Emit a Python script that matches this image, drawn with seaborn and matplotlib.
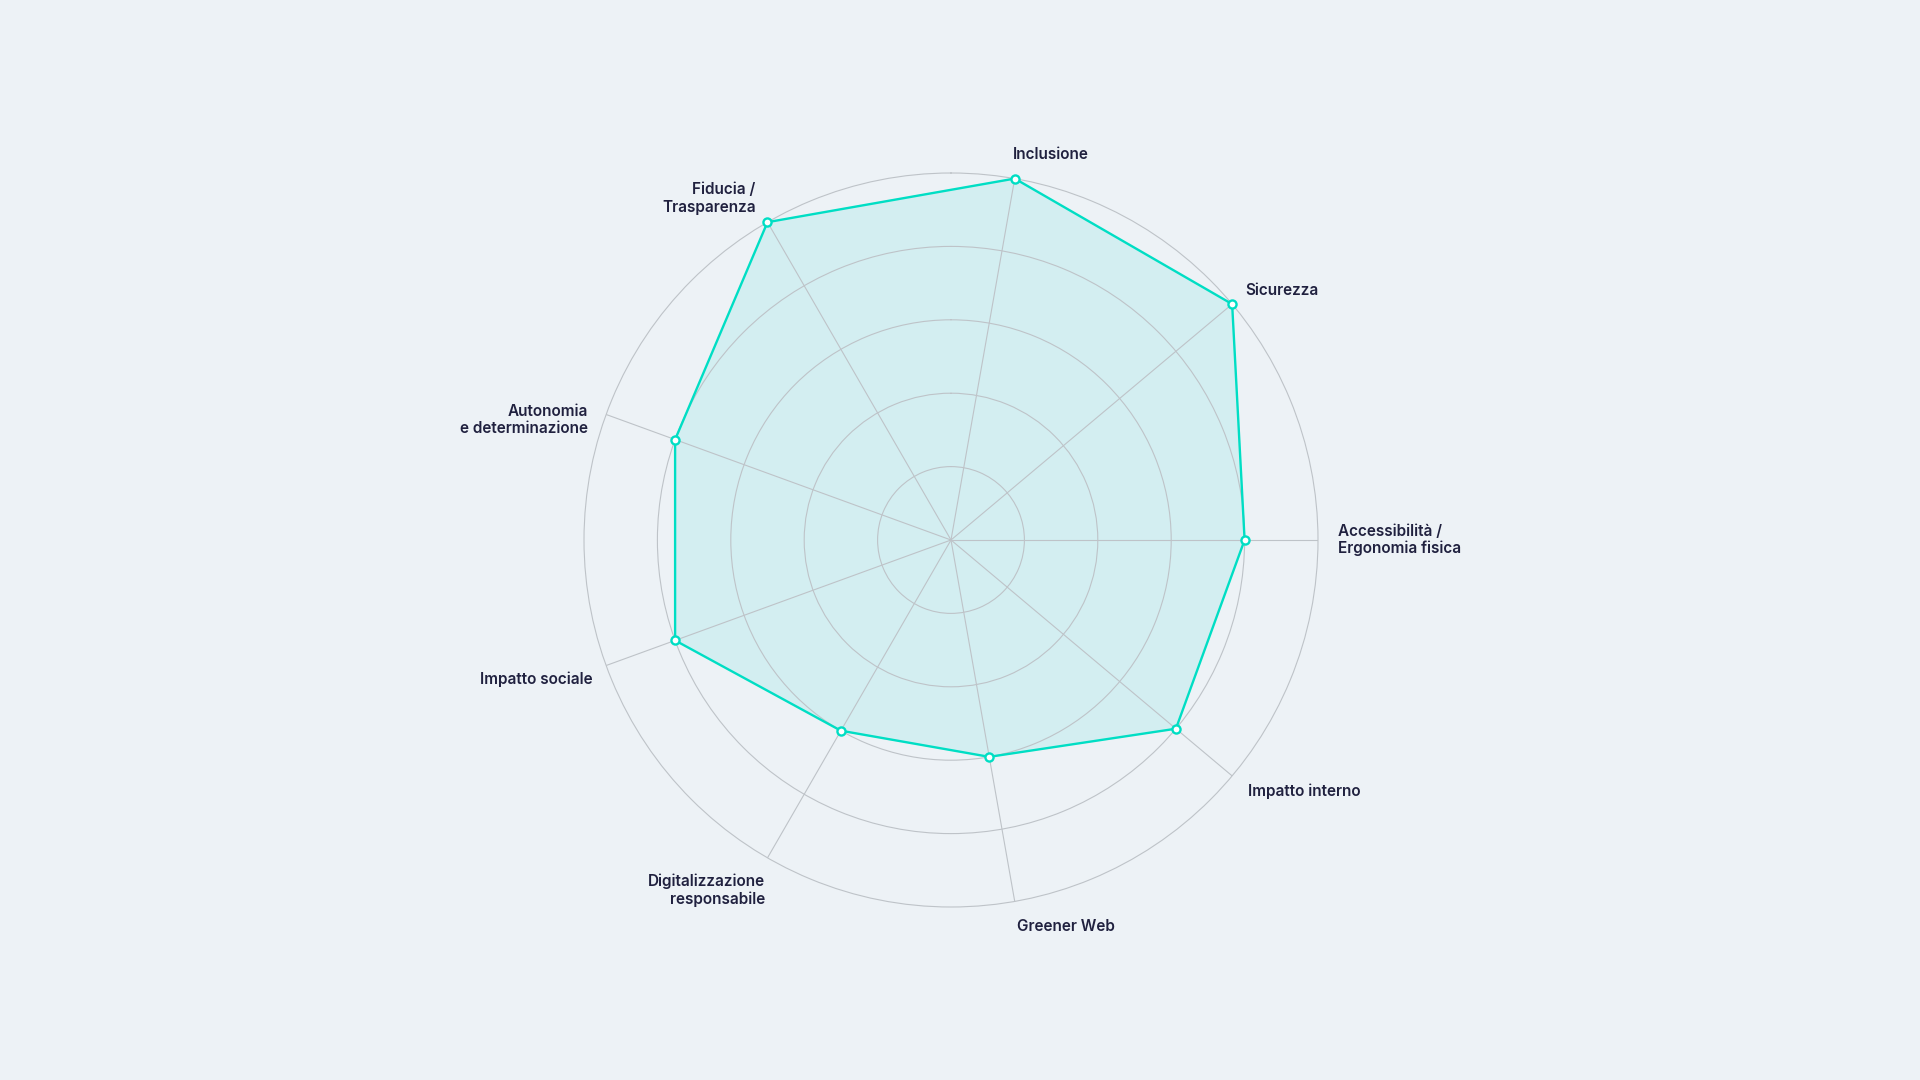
import numpy as np
import pandas as pd
import matplotlib
matplotlib.use("Agg")
import matplotlib.pyplot as plt
import seaborn as sns

categories = [
    "Inclusione",
    "Sicurezza",
    "Accessibilità /\nErgonomia fisica",
    "Impatto interno",
    "Greener Web",
    "Digitalizzazione\nresponsabile",
    "Impatto sociale",
    "Autonomia\ne determinazione",
    "Fiducia /\nTrasparenza",
]
values = [5, 5, 4, 4, 3, 3, 4, 4, 5]
ring_levels = [1, 2, 3, 4, 5]
angle_offset_deg = 10

BG = "#EDF2F6"
LINE = "#00DEC4"
FILL = "#D3EEF1"
GRID = "#BEC3C8"
TEXT = "#20213F"

# small label nudges (points): (dx right, dy up)
label_nudges = [(-3.5, 4.5), (-1, 1), (1, 0), (1, -2.4), (-0.5, -5.3),
                (5, -11.8), (3, -5.4), (-1, -8.3), (-2, 5.5)]

sns.set_theme(style="white")
plt.rcParams["font.family"] = ["Inter", "DejaVu Sans"]

n = len(categories)
angles_deg = [angle_offset_deg + i * 360.0 / n for i in range(n)]
theta = np.deg2rad(angles_deg)

df = pd.DataFrame({
    "theta": list(theta) + [theta[0] + 2 * np.pi],
    "value": values + [values[0]],
})

fig = plt.figure(figsize=(19.2, 10.8), dpi=100, facecolor=BG)
cx, cy, R = 951, 540, 367
ax = fig.add_axes([(cx - R) / 1920, (cy - R) / 1080, 2 * R / 1920, 2 * R / 1080],
                  projection="polar")
ax.set_facecolor(BG)
ax.set_theta_zero_location("N")
ax.set_theta_direction(-1)
ax.set_axisbelow(False)

ax.fill(df["theta"], df["value"], color=FILL, zorder=1)
sns.lineplot(data=df, x="theta", y="value", sort=False, estimator=None, ax=ax,
             color=LINE, linewidth=1.7, zorder=3, legend=False)
ax.scatter(theta, values, s=34, facecolor="white", edgecolor=LINE,
           linewidth=1.7, zorder=4, clip_on=False)

ax.set_ylim(0, ring_levels[-1])
ax.set_xlim(0, 2 * np.pi)
ax.set_rgrids(ring_levels[:-1], labels=[])
ax.set_thetagrids(angles_deg, labels=[])
ax.grid(True, color=GRID, linewidth=0.8)
for gl in ax.xaxis.get_gridlines() + ax.yaxis.get_gridlines():
    gl.set_zorder(2)
ax.spines["polar"].set_color(GRID)
ax.spines["polar"].set_linewidth(0.8)
ax.tick_params(axis="both", length=0, pad=0)
ax.set_xlabel("")
ax.set_ylabel("")

label_r = 5.25
for ang, t, lab, (ndx, ndy) in zip(angles_deg, theta, categories, label_nudges):
    a = ang % 360
    ha = "left" if a < 180 else "right"
    ax.annotate(lab, xy=(t, label_r), xytext=(ndx, ndy), textcoords="offset points",
                ha=ha, va="center", multialignment=ha, annotation_clip=False,
                fontsize=11, fontweight="semibold", color=TEXT, linespacing=1.2,
                zorder=5)

fig.savefig("out.png", dpi=100, facecolor=BG)
